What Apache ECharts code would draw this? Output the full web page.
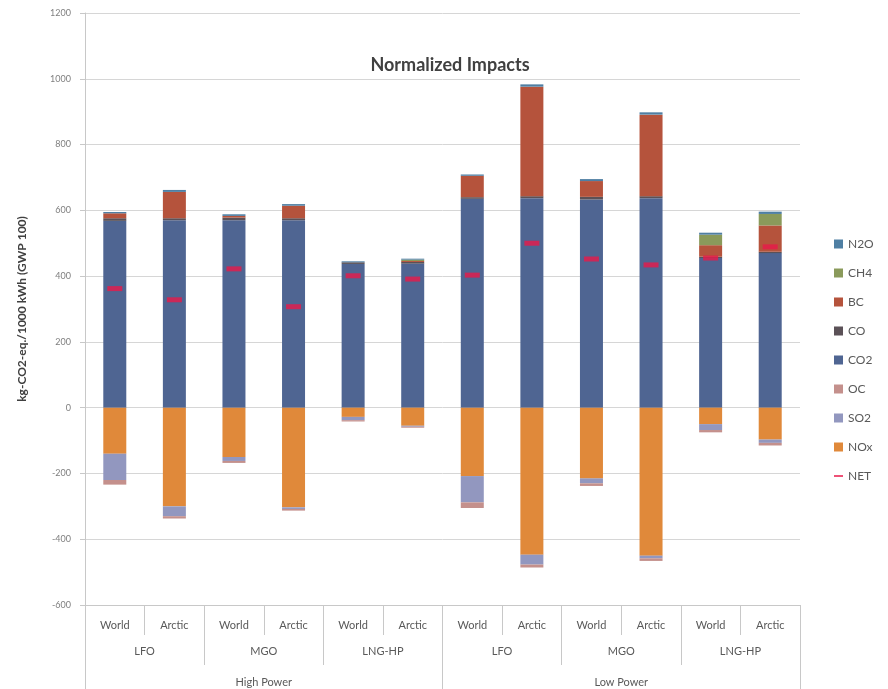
<!DOCTYPE html>
<html>
<head>
<meta charset="utf-8">
<title>Normalized Impacts</title>
<script src="https://cdn.jsdelivr.net/npm/echarts@6/dist/echarts.min.js"></script>
<style>
  html, body { margin: 0; padding: 0; background: #ffffff; }
  #chart { width: 888px; height: 689px; }
</style>
</head>
<body>
<div id="chart"></div>
<script>
// Case labels (three category levels)
const cases = ['World', 'Arctic', 'World', 'Arctic', 'World', 'Arctic',
               'World', 'Arctic', 'World', 'Arctic', 'World', 'Arctic'];
const fuels = ['LFO', 'MGO', 'LNG-HP', 'LFO', 'MGO', 'LNG-HP'];
const powers = ['High Power', 'Low Power'];

// Positive contributions (kg CO2-eq per 1000 kWh, GWP 100)
const co2 = [568, 570, 570, 570, 437, 438, 635, 637, 633, 637, 455, 470];
const co  = [8, 6, 8, 6, 5, 5, 5, 6, 8, 6, 4, 4];
const bc  = [15, 80, 5, 38, 0, 3, 65, 333, 48, 248, 35, 80];
const ch4 = [0, 0, 0, 0, 0, 4, 0, 0, 0, 0, 32, 35];
const n2o = [4, 6, 5, 5, 3, 3, 4, 7, 6, 7, 6, 7];

// Negative (cooling) contributions
const nox = [-140, -300, -150, -303, -28, -55, -208, -447, -215, -450, -50, -97];
const so2 = [-80, -30, -12, -5, -10, -3, -80, -30, -15, -8, -18, -10];
const oc  = [-14, -7, -6, -5, -4, -3, -17, -9, -8, -8, -7, -8];

// Net impact per case
const net = [362, 328, 422, 307, 401, 391, 403, 500, 452, 434, 455, 489];

// Value axis ticks
const yTicks = [-600, -400, -200, 0, 200, 400, 600, 800, 1000, 1200];

const FONT = 'Lato, "Liberation Sans", sans-serif';
const TEXT = '#595959';
const LINE = '#c8c8c8';

const colors = {
  N2O: '#4f7fa3',
  CH4: '#8a9a5b',
  BC:  '#b5533c',
  CO:  '#5b5157',
  CO2: '#4f6592',
  OC:  '#c4908c',
  SO2: '#9297bf',
  NOx: '#e0893a',
  NET: '#e8194a'
};

function barSeries(name, data) {
  return {
    name: name,
    type: 'bar',
    stack: 'impact',
    data: data,
    barWidth: 23,
    itemStyle: { color: colors[name] },
    emphasis: { disabled: true }
  };
}

const chart = echarts.init(document.getElementById('chart'), null, { renderer: 'canvas' });

chart.setOption({
  animation: false,
  backgroundColor: '#ffffff',
  textStyle: { fontFamily: FONT, color: TEXT },
  title: {
    text: 'Normalized Impacts',
    left: 445,
    top: 51,
    textAlign: 'center',
    textStyle: { fontFamily: FONT, fontSize: 18, fontWeight: 'bold', color: '#404040' }
  },
  legend: {
    orient: 'vertical',
    left: 829,
    top: 233,
    itemGap: 17,
    itemWidth: 9,
    itemHeight: 9,
    textStyle: { fontFamily: FONT, fontSize: 12, color: TEXT },
    data: [
      { name: 'N2O', icon: 'rect' },
      { name: 'CH4', icon: 'rect' },
      { name: 'BC', icon: 'rect' },
      { name: 'CO', icon: 'rect' },
      { name: 'CO2', icon: 'rect' },
      { name: 'OC', icon: 'rect' },
      { name: 'SO2', icon: 'rect' },
      { name: 'NOx', icon: 'rect' },
      { name: 'NET', icon: 'path://M0,0h24v5h-24z' }
    ]
  },
  grid: { left: 85, right: 88, top: 13, bottom: 84 },
  xAxis: [
    {
      type: 'category',
      data: cases,
      position: 'bottom',
      axisLine: { onZero: false, lineStyle: { color: LINE } },
      axisTick: { show: true, length: 30, interval: 0, lineStyle: { color: LINE } },
      axisLabel: { interval: 0, margin: 15, fontSize: 11, color: TEXT, fontFamily: FONT }
    },
    {
      type: 'category',
      data: fuels,
      position: 'bottom',
      axisLine: { show: false, onZero: false },
      axisTick: { show: true, length: 60, interval: 0, lineStyle: { color: LINE } },
      axisLabel: { interval: 0, margin: 41, fontSize: 11, color: TEXT, fontFamily: FONT }
    },
    {
      type: 'category',
      data: powers,
      position: 'bottom',
      axisLine: { show: false, onZero: false },
      axisTick: { show: true, length: 90, interval: 0, lineStyle: { color: LINE } },
      axisLabel: { interval: 0, margin: 72, fontSize: 11, color: TEXT, fontFamily: FONT }
    }
  ],
  yAxis: {
    type: 'value',
    min: yTicks[0],
    max: yTicks[yTicks.length - 1],
    interval: 200,
    name: 'kg-CO2-eq./1000 kWh (GWP 100)',
    nameLocation: 'middle',
    nameGap: 57,
    nameTextStyle: { fontFamily: FONT, fontSize: 12, fontWeight: 'bold', color: '#404040' },
    axisLine: { show: true, lineStyle: { color: LINE } },
    axisTick: { show: true, length: 5, lineStyle: { color: LINE } },
    axisLabel: {
      fontSize: 9, color: '#7f7f7f', fontFamily: FONT, margin: 14,
      formatter: function (v) { return String(v); }
    },
    splitLine: { show: true, lineStyle: { color: '#d6d6d6', width: 1 } }
  },
  series: [
    barSeries('CO2', co2),
    barSeries('CO', co),
    barSeries('BC', bc),
    barSeries('CH4', ch4),
    barSeries('N2O', n2o),
    barSeries('NOx', nox),
    barSeries('SO2', so2),
    barSeries('OC', oc),
    {
      name: 'NET',
      type: 'scatter',
      data: net,
      symbol: 'rect',
      symbolSize: [15, 5],
      itemStyle: { color: colors.NET },
      z: 10,
      emphasis: { disabled: true }
    }
  ]
});
</script>
</body>
</html>
